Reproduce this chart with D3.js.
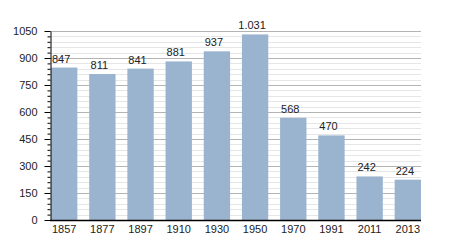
<!DOCTYPE html>
<html>
<head>
<meta charset="utf-8">
<script src="https://cdn.jsdelivr.net/npm/d3@7"></script>
<style>
  body { margin: 0; background: #fff; }
  svg text { font-family: "Liberation Sans", Arial, sans-serif; fill: #222; }
</style>
</head>
<body>
<div id="chart"></div>
<script>
const years = ['1857', '1877', '1897', '1910', '1930', '1950', '1970', '1991', '2011', '2013'];
const population = [847, 811, 841, 881, 937, 1031, 568, 470, 242, 224];
const labels = ['847', '811', '841', '881', '937', '1.031', '568', '470', '242', '224'];
const yTicks = [0, 150, 300, 450, 600, 750, 900, 1050];

const width = 450, height = 250;
const plotLeft = 51, plotRight = 421, plotTop = 31, plotBottom = 220;

const svg = d3.select('#chart').append('svg').attr('width', width).attr('height', height);

const x = d3.scaleBand().domain(years).range([plotLeft, plotRight]).paddingInner(0.31).paddingOuter(0);
const y = d3.scaleLinear().domain([0, 1050]).range([plotBottom, plotTop]);

const minor = d3.range(0, 1051, 30).filter((v) => v % 150 !== 0);

// grid
svg.append('g')
  .selectAll('line')
  .data(minor)
  .join('line')
  .attr('x1', 50).attr('x2', plotRight)
  .attr('y1', (d) => Math.round(y(d)) + 0.5).attr('y2', (d) => Math.round(y(d)) + 0.5)
  .attr('stroke', '#e6e6e6');

svg.append('g')
  .selectAll('line')
  .data(yTicks.slice(1))
  .join('line')
  .attr('x1', 50).attr('x2', plotRight)
  .attr('y1', (d) => Math.round(y(d)) + 0.5).attr('y2', (d) => Math.round(y(d)) + 0.5)
  .attr('stroke', '#b4b4b4');

// bars
svg.append('g')
  .attr('fill', '#9ab3cf')
  .selectAll('rect')
  .data(population)
  .join('rect')
  .attr('x', (d, i) => x(years[i]))
  .attr('y', (d) => y(d))
  .attr('width', x.bandwidth())
  .attr('height', (d) => y(0) - y(d));

svg.append('g')
  .attr('font-size', 11)
  .attr('text-anchor', 'middle')
  .selectAll('text')
  .data(population)
  .join('text')
  .attr('x', (d, i) => x(years[i]) + x.bandwidth() / 2 - 3)
  .attr('y', (d) => y(d) - 5)
  .text((d, i) => labels[i]);

// y axis with minor ticks
const yAxis = svg.append('g').attr('transform', 'translate(50.5,0)');
yAxis.append('g')
  .call(d3.axisLeft(y).tickValues(minor).tickSize(3).tickFormat(''))
  .call((g) => g.select('.domain').remove());
yAxis.append('g')
  .call(d3.axisLeft(y).tickValues(yTicks).tickSize(6).tickSizeOuter(0).tickPadding(7).tickFormat(d3.format('d')))
  .call((g) => g.selectAll('text').attr('font-size', 11).attr('fill', '#222'));
yAxis.selectAll('line').attr('stroke', '#000');

// x axis
svg.append('g')
  .attr('transform', `translate(0,${plotBottom + 0.5})`)
  .call(d3.axisBottom(x).tickSize(0).tickSizeOuter(0).tickPadding(5))
  .call((g) => g.select('.domain').attr('d', `M50,0H${plotRight}`).attr('stroke', '#000').attr('stroke-width', 1.5))
  .call((g) => g.selectAll('text').attr('font-size', 11).attr('fill', '#222'));
</script>
</body>
</html>
